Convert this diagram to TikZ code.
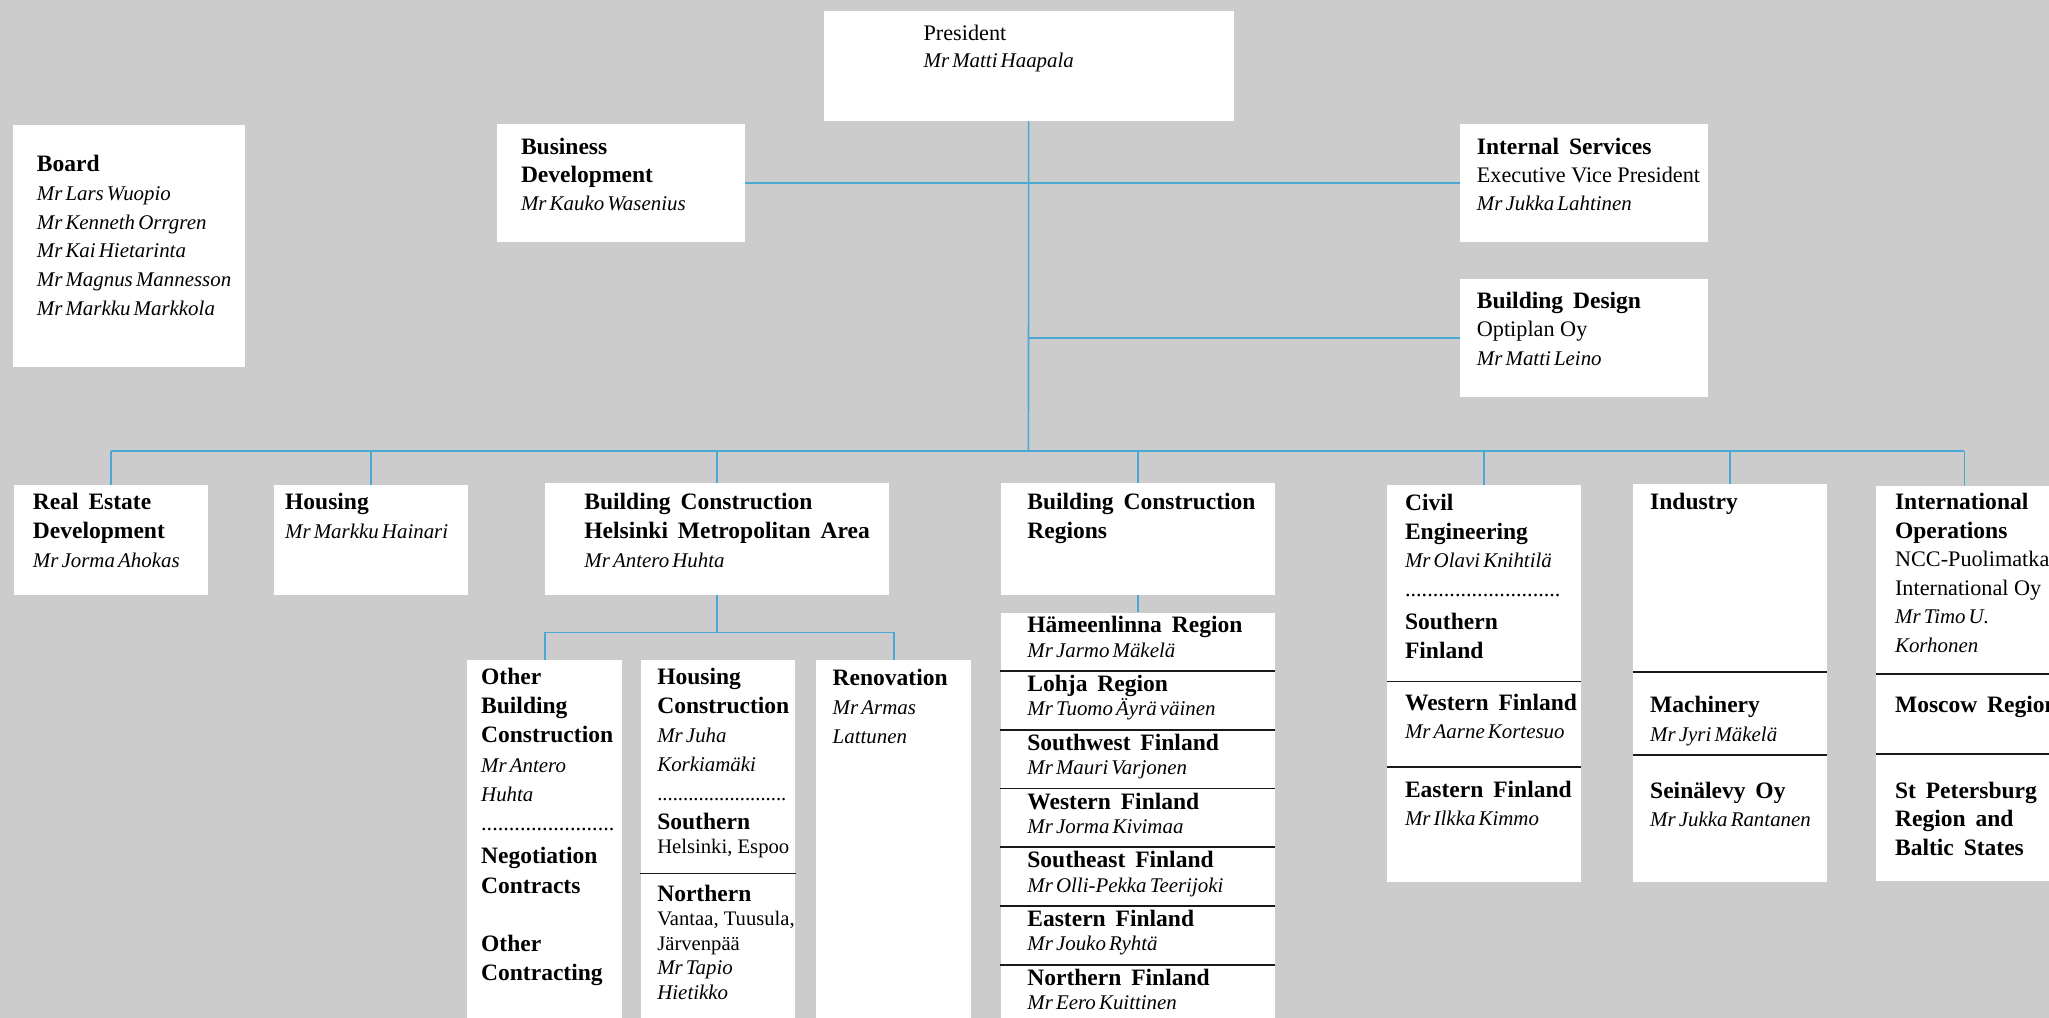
\documentclass[tikz,border=0pt]{standalone}
\usepackage{fontspec}
\setmainfont{Liberation Serif}
\usepackage{tikz}
\usetikzlibrary{positioning, calc}
\usepackage{xcolor}
\definecolor{bggray}{HTML}{CCCCCC}
\definecolor{linkblue}{HTML}{4AA8D4}

\newcommand{\orgtop}{\rule{0pt}{15pt}}
\newcommand{\orghd}[1]{{\orgtop\fontsize{18}{22}\selectfont\bfseries\spaceskip=0.42em\relax #1}}
\newcommand{\orgnm}[1]{{\fontsize{16}{22}\selectfont\itshape\spaceskip=0.15em\relax #1}}
\newcommand{\orgdots}[1]{\foreach \k in {1,...,#1}{.}}

\begin{document}
\begin{tikzpicture}[
    x=1pt, y=-1pt,
    box/.style={fill=white, inner sep=0pt, anchor=north west},
    txt/.style={anchor=north west, yshift=15pt, align=left, inner sep=0pt,
                font=\fontsize{17}{22}\selectfont},
    link/.style={draw=linkblue, line width=1.2pt},
    sep/.style={draw=black!90, line width=1.3pt}
]
\useasboundingbox (0,0) rectangle (1568,779);
\clip (0,0) rectangle (1568,779);
\fill[bggray] (0,0) rectangle (1568,779);

% top level
\node[box, minimum width=314pt, minimum height=84pt] (pres) at (630,8.4) {};
\node[box, minimum width=178pt, minimum height=185pt] (board) at (9.4,95.7) {};
\node[box, minimum width=190pt, minimum height=90pt] (busdev) at (380,95) {};
\node[box, minimum width=189.7pt, minimum height=90pt] (internal) at (1117.3,95) {};
\node[box, minimum width=189.7pt, minimum height=90pt] (design) at (1117.3,213.6) {};

\node[txt, font=\fontsize{17}{20.5}\selectfont] (pres-t) at (706.6,30.6) {\orgtop President\\\orgnm{Mr Matti Haapala}};
\node[txt, font=\fontsize{17}{21.9}\selectfont] (board-t) at (28,131.4) {\orghd{Board}\\\orgnm{Mr Lars Wuopio}\\\orgnm{Mr Kenneth Orrgren}\\\orgnm{Mr Kai Hietarinta}\\\orgnm{Mr Magnus Mannesson}\\\orgnm{Mr Markku Markkola}};
\node[txt, font=\fontsize{17}{21.7}\selectfont] (busdev-t) at (398.5,117.8) {\orghd{Business}\\\orghd{Development}\\\orgnm{Mr Kauko Wasenius}};
\node[txt, font=\fontsize{17}{21.7}\selectfont] (internal-t) at (1130,117.8) {\orghd{Internal Services}\\Executive Vice President\\\orgnm{Mr Jukka Lahtinen}};
\node[txt, font=\fontsize{17}{21.7}\selectfont] (design-t) at (1130,235.9) {\orghd{Building Design}\\Optiplan Oy\\\orgnm{Mr Matti Leino}};

% business areas
\node[box, minimum width=148.5pt, minimum height=84pt] (realest) at (10.7,371) {};
\node[box, minimum width=148.3pt, minimum height=84pt] (housing) at (209.7,371) {};
\node[box, minimum width=263pt, minimum height=85.4pt] (bchel) at (417,369.6) {};
\node[box, minimum width=210pt, minimum height=85.4pt] (bcreg) at (765.5,369.6) {};
\node[box, minimum width=148pt, minimum height=150.4pt] (civ1) at (1061.5,371) {};
\node[box, minimum width=148pt, minimum height=65.6pt] (civ2) at (1061.5,521.4) {};
\node[box, minimum width=148pt, minimum height=87.7pt] (civ3) at (1061.5,587) {};
\node[box, minimum width=148.3pt, minimum height=143.7pt] (ind1) at (1249.5,370.5) {};
\node[box, minimum width=148.3pt, minimum height=63.8pt] (ind2) at (1249.5,514.2) {};
\node[box, minimum width=148.3pt, minimum height=97pt] (ind3) at (1249.5,578) {};
\node[box, minimum width=135pt, minimum height=143.6pt] (int1) at (1435.6,372) {};
\node[box, minimum width=135pt, minimum height=61.4pt] (int2) at (1435.6,515.6) {};
\node[box, minimum width=135pt, minimum height=97pt] (int3) at (1435.6,577) {};

\node[txt] (realest-t) at (25,390) {\orghd{Real Estate}\\\orghd{Development}\\\orgnm{Mr Jorma Ahokas}};
\node[txt] (housing-t) at (218,390) {\orghd{Housing}\\\orgnm{Mr Markku Hainari}};
\node[txt] (bchel-t) at (447,390) {\orghd{Building Construction}\\\orghd{Helsinki Metropolitan Area}\\\orgnm{Mr Antero Huhta}};
\node[txt] (bcreg-t) at (786,390) {\orghd{Building Construction}\\\orghd{Regions}};
\node[txt] (civ1-t) at (1075,390.4) {\orghd{Civil}\\\orghd{Engineering}\\\orgnm{Mr Olavi Knihtilä}\\\orgdots{28}\\[3pt]\orghd{Southern}\\\orghd{Finland}};
\node[txt] (civ2-t) at (1075,543.3) {\orghd{Western Finland}\\\orgnm{Mr Aarne Kortesuo}};
\node[txt] (civ3-t) at (1075,609.7) {\orghd{Eastern Finland}\\\orgnm{Mr Ilkka Kimmo}};
\node[txt] (ind1-t) at (1262.6,390) {\orghd{Industry}};
\node[txt] (ind2-t) at (1262.6,545) {\orghd{Machinery}\\\orgnm{Mr Jyri Mäkelä}};
\node[txt] (ind3-t) at (1262.6,610.5) {\orghd{Seinälevy Oy}\\\orgnm{Mr Jukka Rantanen}};
\node[txt, font=\fontsize{17}{21.8}\selectfont] (int1-t) at (1450,390) {\orghd{International}\\\orghd{Operations}\\NCC-Puolimatka\\International Oy\\\orgnm{Mr Timo U.}\\\orgnm{Korhonen}};
\node[txt] (int2-t) at (1450,545) {\orghd{Moscow Region}};
\node[txt, font=\fontsize{17}{21.8}\selectfont] (int3-t) at (1450,610.5) {\orghd{St Petersburg}\\\orghd{Region and}\\\orghd{Baltic States}};

% Helsinki units
\node[box, minimum width=118.5pt, minimum height=300pt] (otherb) at (357.5,505) {};
\node[box, minimum width=118.5pt, minimum height=163.4pt] (hc1) at (490,505) {};
\node[box, minimum width=118.5pt, minimum height=130pt] (hc2) at (490,668.4) {};
\node[box, minimum width=118.5pt, minimum height=300pt] (renov) at (624.5,505) {};

\node[txt, font=\fontsize{17}{22.4}\selectfont] (otherb-t) at (368,523.5) {\orghd{Other}\\\orghd{Building}\\\orghd{Construction}\\\orgnm{Mr Antero}\\\orgnm{Huhta}\\\orgdots{24}\\[3pt]\orghd{Negotiation}\\\orghd{Contracts}\\[22.4pt]\orghd{Other}\\\orghd{Contracting}};
\node[txt, font=\fontsize{15.8}{22.2}\selectfont] (hc1-t) at (502.8,523.5) {\orghd{Housing}\\\orghd{Construction}\\\orgnm{Mr Juha}\\\orgnm{Korkiamäki}\\\orgdots{25}\\\orghd{Southern}\\[-3.8pt]Helsinki, Espoo};
\node[txt, font=\fontsize{15.8}{18.8}\selectfont] (hc2-t) at (502.8,689.4) {\orghd{Northern}\\Vantaa, Tuusula,\\Järvenpää\\\orgnm{Mr Tapio}\\\orgnm{Hietikko}};
\node[txt, font=\fontsize{17}{22.5}\selectfont] (renov-t) at (637,524) {\orghd{Renovation}\\\orgnm{Mr Armas}\\\orgnm{Lattunen}};

% regions
\foreach \i/\rg/\mgr in {1/Hämeenlinna Region/Mr Jarmo Mäkelä, 2/Lohja Region/Mr Tuomo Äyrä väinen, 3/Southwest Finland/Mr Mauri Varjonen, 4/Western Finland/Mr Jorma Kivimaa, 5/Southeast Finland/Mr Olli-Pekka Teerijoki, 6/Eastern Finland/Mr Jouko Ryhtä, 7/Northern Finland/Mr Eero Kuittinen} {
  \node[box, minimum width=210pt, minimum height=45pt] (reg\i) at (765.5,{468.6+(\i-1)*44.95}) {};
  \node[txt, font=\fontsize{17}{18.5}\selectfont] (reg\i-t) at (786,{484.1+(\i-1)*44.95}) {\orghd{\rg}\\\orgnm{\mgr}};
}

% separators
\foreach \u in {reg2,reg3,reg4,reg5,reg6,reg7,civ2,civ3,ind2,ind3,int2,int3,hc2}
  \draw[sep] (\u.north west) -- (\u.north east);

% connectors
\coordinate (hub) at (787,345);
\draw[link] (pres.south) -- (hub);
\draw[link] (busdev) -- (internal);
\draw[link] (design.west) -- (design.west -| hub);
\draw[link] (realest.north |- hub) -- (int1.north |- hub);
\foreach \u in {realest,housing,bchel,bcreg,civ1,ind1,int1}
  \draw[link] (\u.north) -- (\u.north |- hub);
\coordinate (subhub) at (bchel.south |- 0,484);
\draw[link] (bchel.south) -- (subhub);
\draw[link] (otherb.north) -- (otherb.north |- subhub) -- (renov.north |- subhub) -- (renov.north);
\draw[link] (bcreg) -- (reg1);
\end{tikzpicture}
\end{document}
